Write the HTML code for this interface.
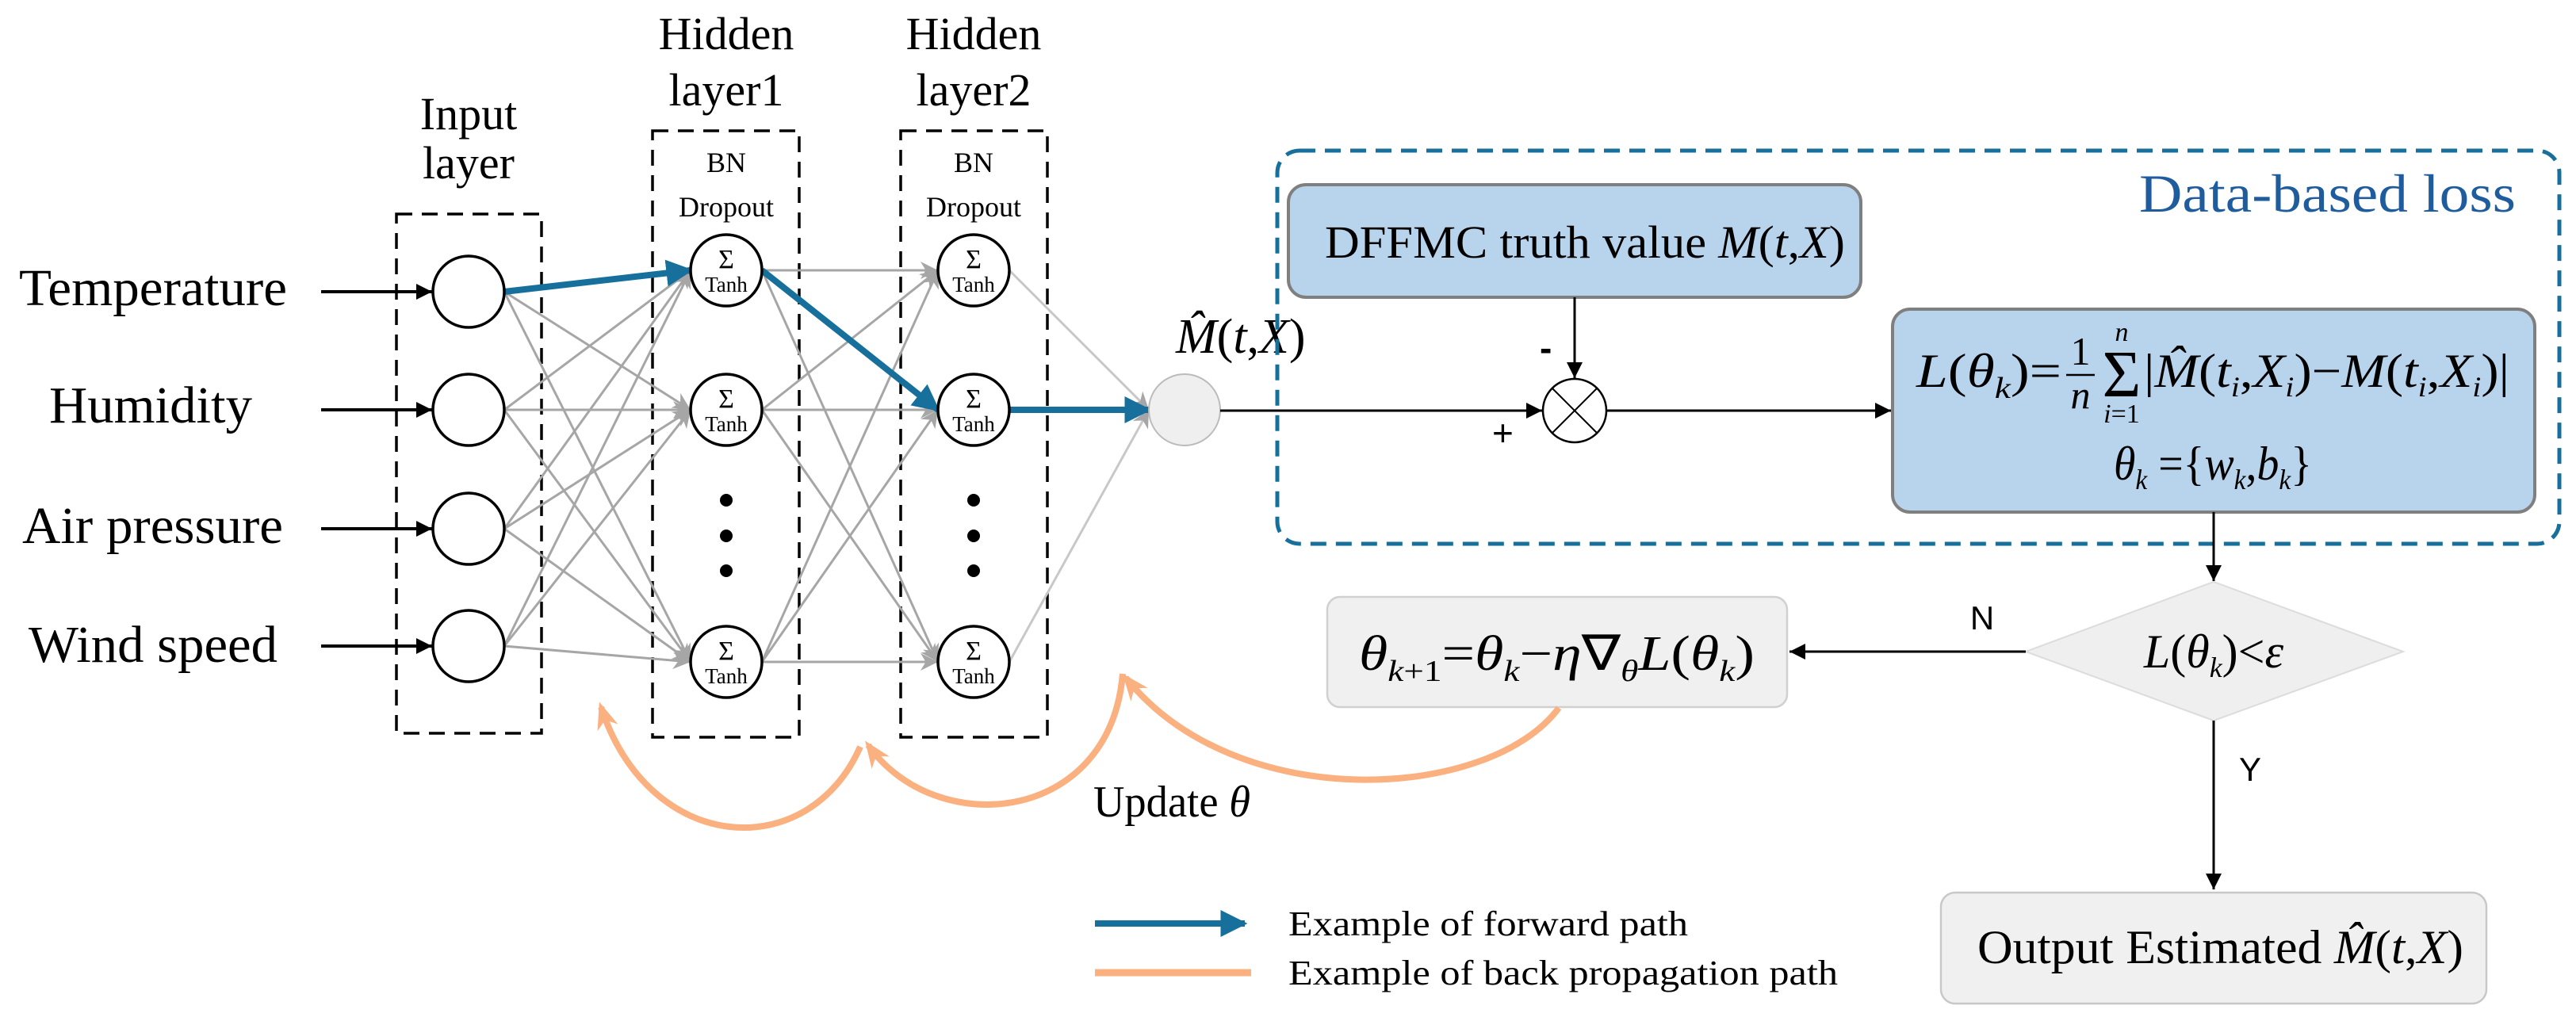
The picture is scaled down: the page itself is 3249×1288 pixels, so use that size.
<!DOCTYPE html>
<html><head><meta charset="utf-8"><style>
html,body{margin:0;padding:0;background:#fff;}
svg{display:block;}
text{font-family:"Liberation Serif","Times New Roman",serif;}
.it{font-style:italic;}
.sans{font-family:"Liberation Sans",sans-serif;}
</style></head><body>
<svg width="3249" height="1288" viewBox="0 0 3249 1288" xmlns="http://www.w3.org/2000/svg">
<defs>
<marker id="abk" viewBox="0 0 10 10" markerWidth="20" markerHeight="20" refX="10" refY="5" orient="auto" markerUnits="userSpaceOnUse"><path d="M0,0 L10,5 L0,10 z" fill="#000"/></marker>
<marker id="ag" viewBox="0 0 10 10" markerWidth="22" markerHeight="22" refX="10" refY="5" orient="auto" markerUnits="userSpaceOnUse"><path d="M0,0 L10,5 L0,10 L3,5 z" fill="#a6a6a6"/></marker>
<marker id="abl" viewBox="0 0 10 10" markerWidth="34" markerHeight="34" refX="9" refY="5" orient="auto" markerUnits="userSpaceOnUse"><path d="M0,0 L10,5 L0,10 z" fill="#176f9c"/></marker>
<marker id="ao" viewBox="0 0 10 10" markerWidth="34" markerHeight="34" refX="8" refY="5" orient="auto" markerUnits="userSpaceOnUse"><path d="M0,1 L10,5 L0,9 L3,5 z" fill="#fbb080"/></marker>
</defs>

<g font-size="66">
<text x="24" y="385" textLength="338" lengthAdjust="spacingAndGlyphs">Temperature</text>
<text x="62" y="533" textLength="256" lengthAdjust="spacingAndGlyphs">Humidity</text>
<text x="28" y="685" textLength="329" lengthAdjust="spacingAndGlyphs">Air pressure</text>
<text x="36" y="835" textLength="314" lengthAdjust="spacingAndGlyphs">Wind speed</text>
</g>
<g stroke="#000" stroke-width="4" marker-end="url(#abk)">
<line x1="405" y1="368" x2="545" y2="368"/>
<line x1="405" y1="517" x2="545" y2="517"/>
<line x1="405" y1="667" x2="545" y2="667"/>
<line x1="405" y1="815" x2="545" y2="815"/>
</g>

<g font-size="58" text-anchor="middle">
<text x="591" y="163">Input</text>
<text x="591" y="225">layer</text>
<text x="916" y="62">Hidden</text>
<text x="916" y="133">layer1</text>
<text x="1228" y="62">Hidden</text>
<text x="1228" y="133">layer2</text>
</g>
<g font-size="36" text-anchor="middle">
<text x="916" y="217">BN</text>
<text x="916" y="273">Dropout</text>
<text x="1228" y="217">BN</text>
<text x="1228" y="273">Dropout</text>
</g>

<g fill="none" stroke="#000" stroke-width="3.5" stroke-dasharray="20 12">
<rect x="500" y="270" width="183" height="655"/>
<rect x="823" y="165" width="185" height="765"/>
<rect x="1136" y="165" width="185" height="765"/>
</g>

<g stroke="#a6a6a6" stroke-width="3" marker-end="url(#ag)">
<line x1="636" y1="368" x2="871" y2="341"/><line x1="636" y1="368" x2="871" y2="517"/><line x1="636" y1="368" x2="871" y2="835"/>
<line x1="636" y1="517" x2="871" y2="341"/><line x1="636" y1="517" x2="871" y2="517"/><line x1="636" y1="517" x2="871" y2="835"/>
<line x1="636" y1="667" x2="871" y2="341"/><line x1="636" y1="667" x2="871" y2="517"/><line x1="636" y1="667" x2="871" y2="835"/>
<line x1="636" y1="815" x2="871" y2="341"/><line x1="636" y1="815" x2="871" y2="517"/><line x1="636" y1="815" x2="871" y2="835"/>
<line x1="961" y1="341" x2="1183" y2="341"/><line x1="961" y1="341" x2="1183" y2="517"/><line x1="961" y1="341" x2="1183" y2="835"/>
<line x1="961" y1="517" x2="1183" y2="341"/><line x1="961" y1="517" x2="1183" y2="517"/><line x1="961" y1="517" x2="1183" y2="835"/>
<line x1="961" y1="835" x2="1183" y2="341"/><line x1="961" y1="835" x2="1183" y2="517"/><line x1="961" y1="835" x2="1183" y2="835"/>
<line x1="1273" y1="341" x2="1449" y2="517" stroke="#c8c8c8"/>
<line x1="1273" y1="835" x2="1449" y2="517" stroke="#c8c8c8"/>
</g>
<g stroke="#176f9c" stroke-width="8" marker-end="url(#abl)">
<line x1="636" y1="368" x2="871" y2="341"/>
<line x1="961" y1="341" x2="1183" y2="517"/>
<line x1="1273" y1="517" x2="1449" y2="517"/>
</g>

<g fill="#fff" stroke="#000" stroke-width="3.5">
<circle cx="591" cy="368" r="45"/><circle cx="591" cy="517" r="45"/><circle cx="591" cy="667" r="45"/><circle cx="591" cy="815" r="45"/>
<circle cx="916" cy="341" r="45"/><circle cx="916" cy="517" r="45"/><circle cx="916" cy="835" r="45"/>
<circle cx="1228" cy="341" r="45"/><circle cx="1228" cy="517" r="45"/><circle cx="1228" cy="835" r="45"/>
</g>
<g text-anchor="middle">
<g font-size="34">
<text x="916" y="338">Σ</text><text x="916" y="514">Σ</text><text x="916" y="832">Σ</text>
<text x="1228" y="338">Σ</text><text x="1228" y="514">Σ</text><text x="1228" y="832">Σ</text>
</g>
<g font-size="27">
<text x="916" y="368">Tanh</text><text x="916" y="544">Tanh</text><text x="916" y="862">Tanh</text>
<text x="1228" y="368">Tanh</text><text x="1228" y="544">Tanh</text><text x="1228" y="862">Tanh</text>
</g>
</g>
<g fill="#000">
<circle cx="916" cy="631" r="8"/><circle cx="916" cy="676" r="8"/><circle cx="916" cy="720" r="8"/>
<circle cx="1228" cy="631" r="8"/><circle cx="1228" cy="676" r="8"/><circle cx="1228" cy="720" r="8"/>
</g>
<circle cx="1494" cy="517" r="45" fill="#efefef" stroke="#bbb" stroke-width="2"/>
<text x="1483" y="445" font-size="62"><tspan class="it">M̂</tspan>(<tspan class="it">t</tspan>,<tspan class="it">X</tspan>)</text>

<rect x="1611" y="190" width="1617" height="496" rx="28" fill="none" stroke="#176f9c" stroke-width="5" stroke-dasharray="20 12"/>
<text x="2698" y="267" font-size="68" fill="#1f5c9e" textLength="475" lengthAdjust="spacingAndGlyphs">Data-based loss</text>
<rect x="1625" y="233" width="722" height="142" rx="22" fill="#b8d3ec" stroke="#7f7f7f" stroke-width="4"/>
<text x="1671" y="325" font-size="58" textLength="656" lengthAdjust="spacingAndGlyphs">DFFMC truth value <tspan class="it">M</tspan>(<tspan class="it">t</tspan>,<tspan class="it">X</tspan>)</text>
<line x1="1986" y1="375" x2="1986" y2="477" stroke="#000" stroke-width="3" marker-end="url(#abk)"/>
<text x="1942" y="455" font-size="46" font-weight="bold" class="sans">-</text>
<circle cx="1986" cy="518" r="40" fill="#fff" stroke="#000" stroke-width="2.5"/>
<line x1="1958" y1="490" x2="2014" y2="546" stroke="#000" stroke-width="2"/>
<line x1="2014" y1="490" x2="1958" y2="546" stroke="#000" stroke-width="2"/>
<line x1="1539" y1="518" x2="1945" y2="518" stroke="#000" stroke-width="3" marker-end="url(#abk)"/>
<text x="1882" y="562" font-size="46" class="sans">+</text>
<line x1="2026" y1="518" x2="2385" y2="518" stroke="#000" stroke-width="3" marker-end="url(#abk)"/>

<rect x="2387" y="390" width="810" height="256" rx="22" fill="#b8d3ec" stroke="#7f7f7f" stroke-width="4"/>
<g font-size="60">
<text x="2417" y="488" textLength="183" lengthAdjust="spacingAndGlyphs"><tspan class="it">L</tspan>(<tspan class="it">θ</tspan><tspan font-size="38" class="it" dy="14">k</tspan><tspan dy="-14">)=</tspan></text>
<text x="2624" y="460" text-anchor="middle" font-size="50">1</text>
<line x1="2606" y1="473" x2="2642" y2="473" stroke="#000" stroke-width="2.5"/>
<text x="2624" y="515" text-anchor="middle" font-size="50" class="it">n</text>
<text x="2676" y="500" text-anchor="middle" font-size="84">Σ</text>
<text x="2676" y="430" text-anchor="middle" font-size="34" class="it">n</text>
<text x="2676" y="533" text-anchor="middle" font-size="34"><tspan class="it">i</tspan>=1</text>
<text x="2704" y="488" textLength="461" lengthAdjust="spacingAndGlyphs">|<tspan class="it">M̂</tspan>(<tspan class="it">t</tspan><tspan font-size="36" class="it" dy="12">i</tspan><tspan dy="-12">,</tspan><tspan class="it">X</tspan><tspan font-size="36" class="it" dy="12">i</tspan><tspan dy="-12">)−</tspan><tspan class="it">M</tspan>(<tspan class="it">t</tspan><tspan font-size="36" class="it" dy="12">i</tspan><tspan dy="-12">,</tspan><tspan class="it">X</tspan><tspan font-size="36" class="it" dy="12">i</tspan><tspan dy="-12">)|</tspan></text>
<text x="2666" y="605" textLength="250" lengthAdjust="spacingAndGlyphs"><tspan class="it">θ</tspan><tspan font-size="36" class="it" dy="12">k</tspan><tspan dy="-12"> ={</tspan><tspan class="it">w</tspan><tspan font-size="36" class="it" dy="12">k</tspan><tspan dy="-12">,</tspan><tspan class="it">b</tspan><tspan font-size="36" class="it" dy="12">k</tspan><tspan dy="-12">}</tspan></text>
</g>

<line x1="2792" y1="646" x2="2792" y2="733" stroke="#000" stroke-width="3" marker-end="url(#abk)"/>
<polygon points="2792,734 3031,822 2792,909 2555,822" fill="#efefef" stroke="#dcdcdc" stroke-width="2"/>
<text x="2792" y="842" font-size="60" text-anchor="middle"><tspan class="it">L</tspan>(<tspan class="it">θ</tspan><tspan font-size="36" class="it" dy="12">k</tspan><tspan dy="-12">)&lt;</tspan><tspan class="it">ε</tspan></text>
<line x1="2555" y1="822" x2="2257" y2="822" stroke="#000" stroke-width="3" marker-end="url(#abk)"/>
<text x="2500" y="794" font-size="42" class="sans" text-anchor="middle">N</text>
<line x1="2792" y1="909" x2="2792" y2="1122" stroke="#000" stroke-width="3" marker-end="url(#abk)"/>
<text x="2838" y="985" font-size="42" class="sans" text-anchor="middle">Y</text>

<rect x="1674" y="753" width="580" height="139" rx="16" fill="#f0f0f0" stroke="#d0d0d0" stroke-width="2.5"/>
<text x="1714" y="845" font-size="62" textLength="499" lengthAdjust="spacingAndGlyphs"><tspan class="it">θ</tspan><tspan font-size="38" class="it" dy="14">k</tspan><tspan font-size="38">+1</tspan><tspan dy="-14">=</tspan><tspan class="it">θ</tspan><tspan font-size="38" class="it" dy="14">k</tspan><tspan dy="-14">−</tspan><tspan class="it">η</tspan>∇<tspan font-size="38" class="it" dy="14">θ</tspan><tspan class="it" dy="-14">L</tspan>(<tspan class="it">θ</tspan><tspan font-size="38" class="it" dy="14">k</tspan><tspan dy="-14">)</tspan></text>

<rect x="2448" y="1126" width="688" height="140" rx="18" fill="#f0f0f0" stroke="#c8c8c8" stroke-width="2.5"/>
<text x="2494" y="1215" font-size="60" textLength="613" lengthAdjust="spacingAndGlyphs">Output Estimated  <tspan class="it">M̂</tspan>(<tspan class="it">t</tspan>,<tspan class="it">X</tspan>)</text>

<g fill="none" stroke="#fbb080" stroke-width="8" marker-end="url(#ao)">
<path d="M1966,893 C1880,1010 1560,1030 1420,855"/>
<path d="M1416,850 C1400,1040 1180,1060 1095,940"/>
<path d="M1085,942 C1020,1090 820,1080 758,892"/>
</g>
<text x="1379" y="1030" font-size="56" textLength="198" lengthAdjust="spacingAndGlyphs">Update <tspan class="it">θ</tspan></text>

<line x1="1381" y1="1165" x2="1570" y2="1165" stroke="#176f9c" stroke-width="8" marker-end="url(#abl)"/>
<line x1="1381" y1="1227" x2="1578" y2="1227" stroke="#fbb080" stroke-width="9"/>
<text x="1625" y="1180" font-size="44" textLength="504" lengthAdjust="spacingAndGlyphs">Example of forward path</text>
<text x="1625" y="1242" font-size="44" textLength="693" lengthAdjust="spacingAndGlyphs">Example of back propagation path</text>
</svg>
</body></html>
